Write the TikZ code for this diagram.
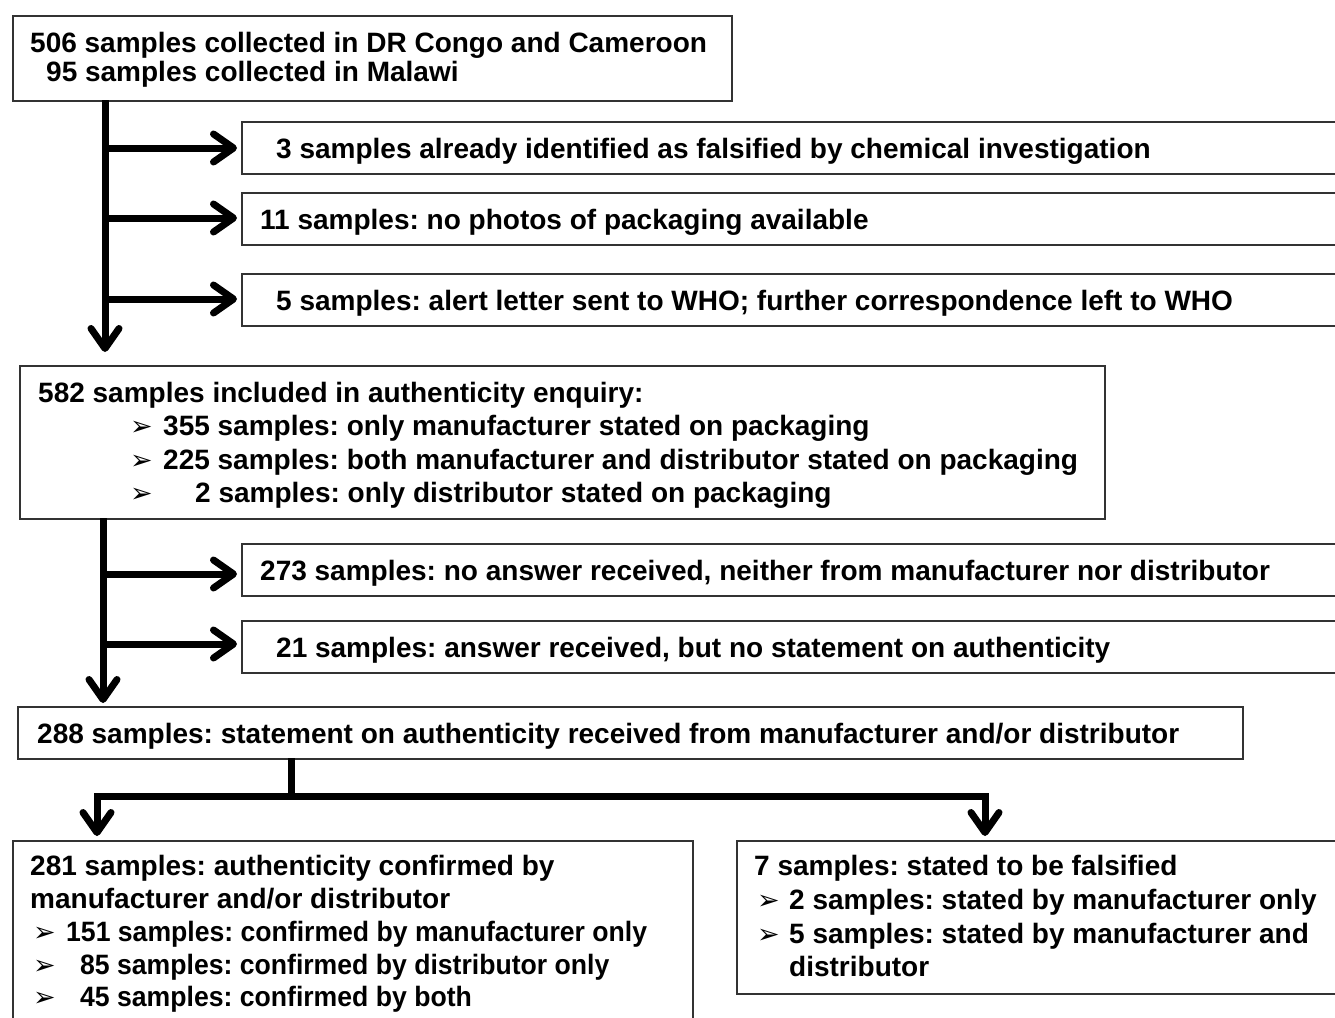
\documentclass[tikz,border=0pt]{standalone}
\usepackage{fontspec}
\usepackage{graphicx}
\setmainfont{Liberation Sans}
\newfontfamily\dejavu{DejaVu Sans}
\usetikzlibrary{arrows.meta}
\frenchspacing
\tikzset{
  box/.style={draw=black!80, line width=1.6pt, anchor=north west, inner sep=0pt},
  txt/.style={anchor=base west, inner sep=0pt, font=\fontsize{28}{33}\selectfont\bfseries},
  blt/.style={anchor=base west, inner sep=0pt, font=\dejavu\fontsize{27}{27}\selectfont},
  flow/.style={line width=7pt, shorten >=4pt, -{Straight Barb[length=20pt,width=28pt,round]}},
  trunk/.style={line width=7pt}
}
\newcommand\narrowtxt[1]{\scalebox{0.95}[1]{#1}}
\begin{document}
\begin{tikzpicture}[x=1pt,y=-1pt]
\useasboundingbox (0,0) rectangle (1335,1017);
\clip (0,0) rectangle (1335,1017);
\fill[white] (0,0) rectangle (1335,1017);

% boxes
\node[box, minimum width=719pt, minimum height=85pt] (b1) at (12,15) {};
\node[box, minimum width=1120pt, minimum height=52pt] (ba) at (241,121) {};
\node[box, minimum width=1120pt, minimum height=52pt] (bb) at (241,192) {};
\node[box, minimum width=1120pt, minimum height=52pt] (bc) at (241,273) {};
\node[box, minimum width=1085pt, minimum height=153pt] (b2) at (19,365) {};
\node[box, minimum width=1120pt, minimum height=52pt] (bd) at (241,543) {};
\node[box, minimum width=1120pt, minimum height=52pt] (be) at (241,620) {};
\node[box, minimum width=1225pt, minimum height=52pt] (b3) at (17,706) {};
\node[box, minimum width=680pt, minimum height=200pt] (b4) at (12,840) {};
\node[box, minimum width=640pt, minimum height=153pt] (b5) at (736,840) {};

% texts
\node[txt] (t1a) at (30,52) {506 samples collected in DR Congo and Cameroon};
\node[txt] (t1b) at (46,81) {95 samples collected in Malawi};
\node[txt] (ta) at (276,158) {3 samples already identified as falsified by chemical investigation};
\node[txt] (tb) at (260,229) {11 samples: no photos of packaging available};
\node[txt] (tc) at (276,310) {5 samples: alert letter sent to WHO; further correspondence left to WHO};
\node[txt] (t2a) at (38,402) {582 samples included in authenticity enquiry:};
\node[blt] (p2b) at (130,435) {➢};
\node[txt] (t2b) at (163,435) {355 samples: only manufacturer stated on packaging};
\node[blt] (p2c) at (130,469) {➢};
\node[txt] (t2c) at (163,469) {225 samples: both manufacturer and distributor stated on packaging};
\node[blt] (p2d) at (130,502) {➢};
\node[txt] (t2d) at (195,502) {2 samples: only distributor stated on packaging};
\node[txt] (td) at (260,580) {273 samples: no answer received, neither from manufacturer nor distributor};
\node[txt] (te) at (276,657) {21 samples: answer received, but no statement on authenticity};
\node[txt] (t3) at (37,743) {288 samples: statement on authenticity received from manufacturer and/or distributor};
\node[txt] (t4a) at (30,875) {281 samples: authenticity confirmed by};
\node[txt] (t4b) at (30,908) {manufacturer and/or distributor};
\node[blt] (p4c) at (33,941) {➢};
\node[txt] (t4c) at (66,941) {\narrowtxt{151 samples: confirmed by manufacturer only}};
\node[blt] (p4d) at (33,974) {➢};
\node[txt] (t4d) at (80,974) {\narrowtxt{85 samples: confirmed by distributor only}};
\node[blt] (p4e) at (33,1006) {➢};
\node[txt] (t4e) at (80,1006) {\narrowtxt{45 samples: confirmed by both}};
\node[txt] (t5a) at (754,875) {7 samples: stated to be falsified};
\node[blt] (p5b) at (757,909) {➢};
\node[txt] (t5b) at (789,909) {2 samples: stated by manufacturer only};
\node[blt] (p5c) at (757,943) {➢};
\node[txt] (t5c) at (789,943) {5 samples: stated by manufacturer and};
\node[txt] (t5d) at (789,976) {distributor};

% connectors, first stage
\coordinate (s1) at (105,100);
\coordinate (e1) at (105,356);
\coordinate (ja) at (105,148);
\coordinate (jb) at (105,218);
\coordinate (jc) at (105,299);
\draw[flow] (s1) -- (e1);
\draw[flow] (ja) -- (ja -| ba.west);
\draw[flow] (jb) -- (jb -| bb.west);
\draw[flow] (jc) -- (jc -| bc.west);

% second stage
\coordinate (s2) at (103,518);
\coordinate (e2) at (103,707);
\coordinate (jd) at (103,574);
\coordinate (je) at (103,644);
\draw[flow] (s2) -- (e2);
\draw[flow] (jd) -- (jd -| bd.west);
\draw[flow] (je) -- (je -| be.west);

% split
\coordinate (s3) at (291,758);
\coordinate (m3) at (291,796);
\coordinate (l3) at (97,796);
\coordinate (r3) at (985,796);
\draw[trunk] (s3) -- (m3);
\draw[trunk, line cap=rect] (l3) -- (r3);
\draw[flow] (l3) -- (l3 |- b4.north);
\draw[flow] (r3) -- (r3 |- b5.north);
\end{tikzpicture}
\end{document}
